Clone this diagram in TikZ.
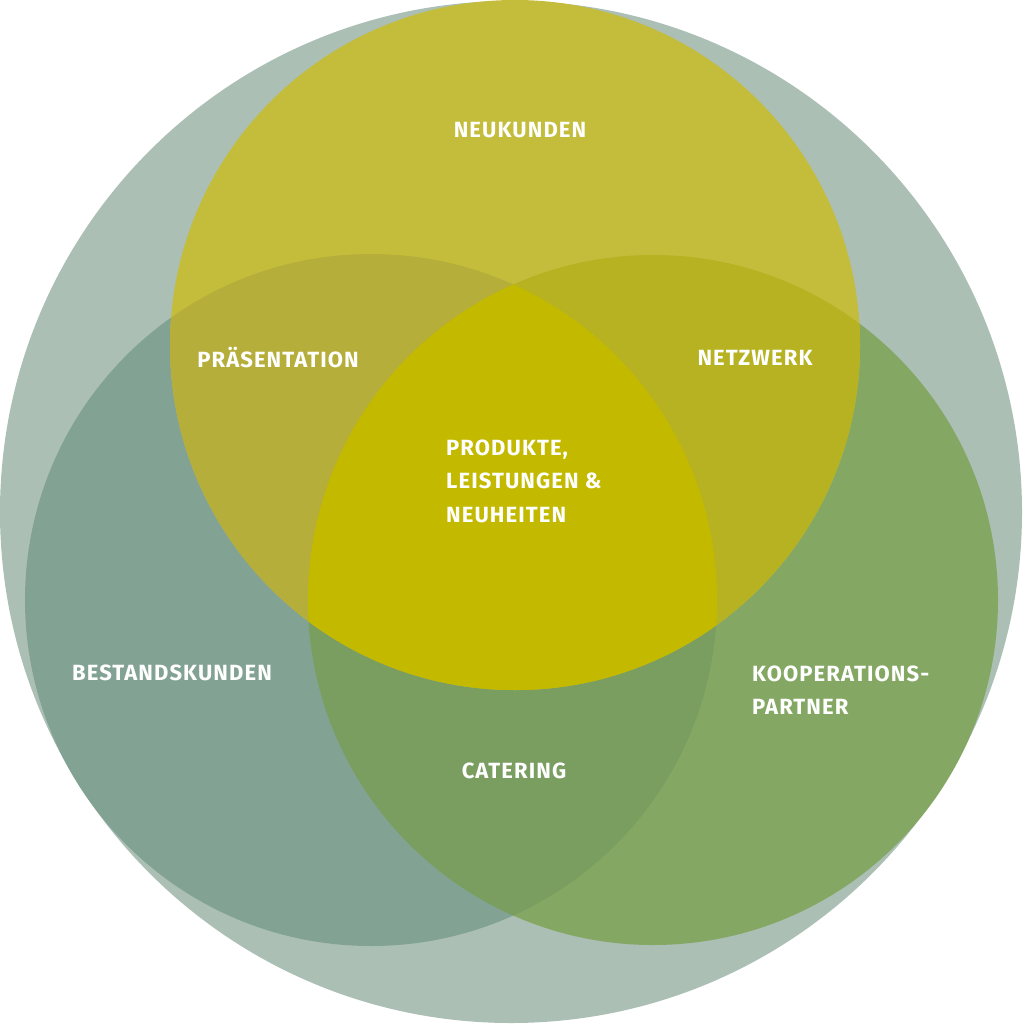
\documentclass[tikz,border=0pt]{standalone}
\usepackage{fontspec}
\setmainfont{Fira Sans}[LetterSpace=5]
\definecolor{cbig}{HTML}{ABBFB5}
\definecolor{ctop}{HTML}{C4BD3C}
\definecolor{cleft}{HTML}{82A294}
\definecolor{cright}{HTML}{84A864}
\definecolor{ctl}{HTML}{B6AE3A}
\definecolor{ctr}{HTML}{B6B222}
\definecolor{clr}{HTML}{7A9D60}
\definecolor{cmid}{HTML}{C3BA00}
\begin{document}
\begin{tikzpicture}[x=1pt,y=-1pt,
  lab/.style={text=white,font=\fontsize{22}{33.5}\selectfont\bfseries,inner sep=0pt}]
\useasboundingbox (0,0) rectangle (1024,1024);
\def\Top{(515,345) circle (345)}
\def\Left{(371,600) circle (346)}
\def\Right{(653,600) circle (345)}
\fill[cbig] (511,512) circle (511);
\fill[cleft] \Left;
\fill[cright] \Right;
\begin{scope}\clip \Left; \fill[clr] \Right; \end{scope}
\fill[ctop] \Top;
\begin{scope}\clip \Top; \fill[ctl] \Left; \fill[ctr] \Right;
  \clip \Left; \fill[cmid] \Right; \end{scope}
\node[lab] (n1) at (520,130) {NEUKUNDEN};
\node[lab] (n2) at (278,358) {PRÄSENTATION};
\node[lab] (n3) at (755,358) {NETZWERK};
\node[lab,align=left,anchor=west] (n4) at (446,481) {PRODUKTE,\\LEISTUNGEN \&\\NEUHEITEN};
\node[lab] (n5) at (172,673) {BESTANDSKUNDEN};
\node[lab,align=left,anchor=west] (n6) at (752,690) {KOOPERATIONS-\\PARTNER};
\node[lab] (n7) at (514,771) {CATERING};
\end{tikzpicture}
\end{document}
